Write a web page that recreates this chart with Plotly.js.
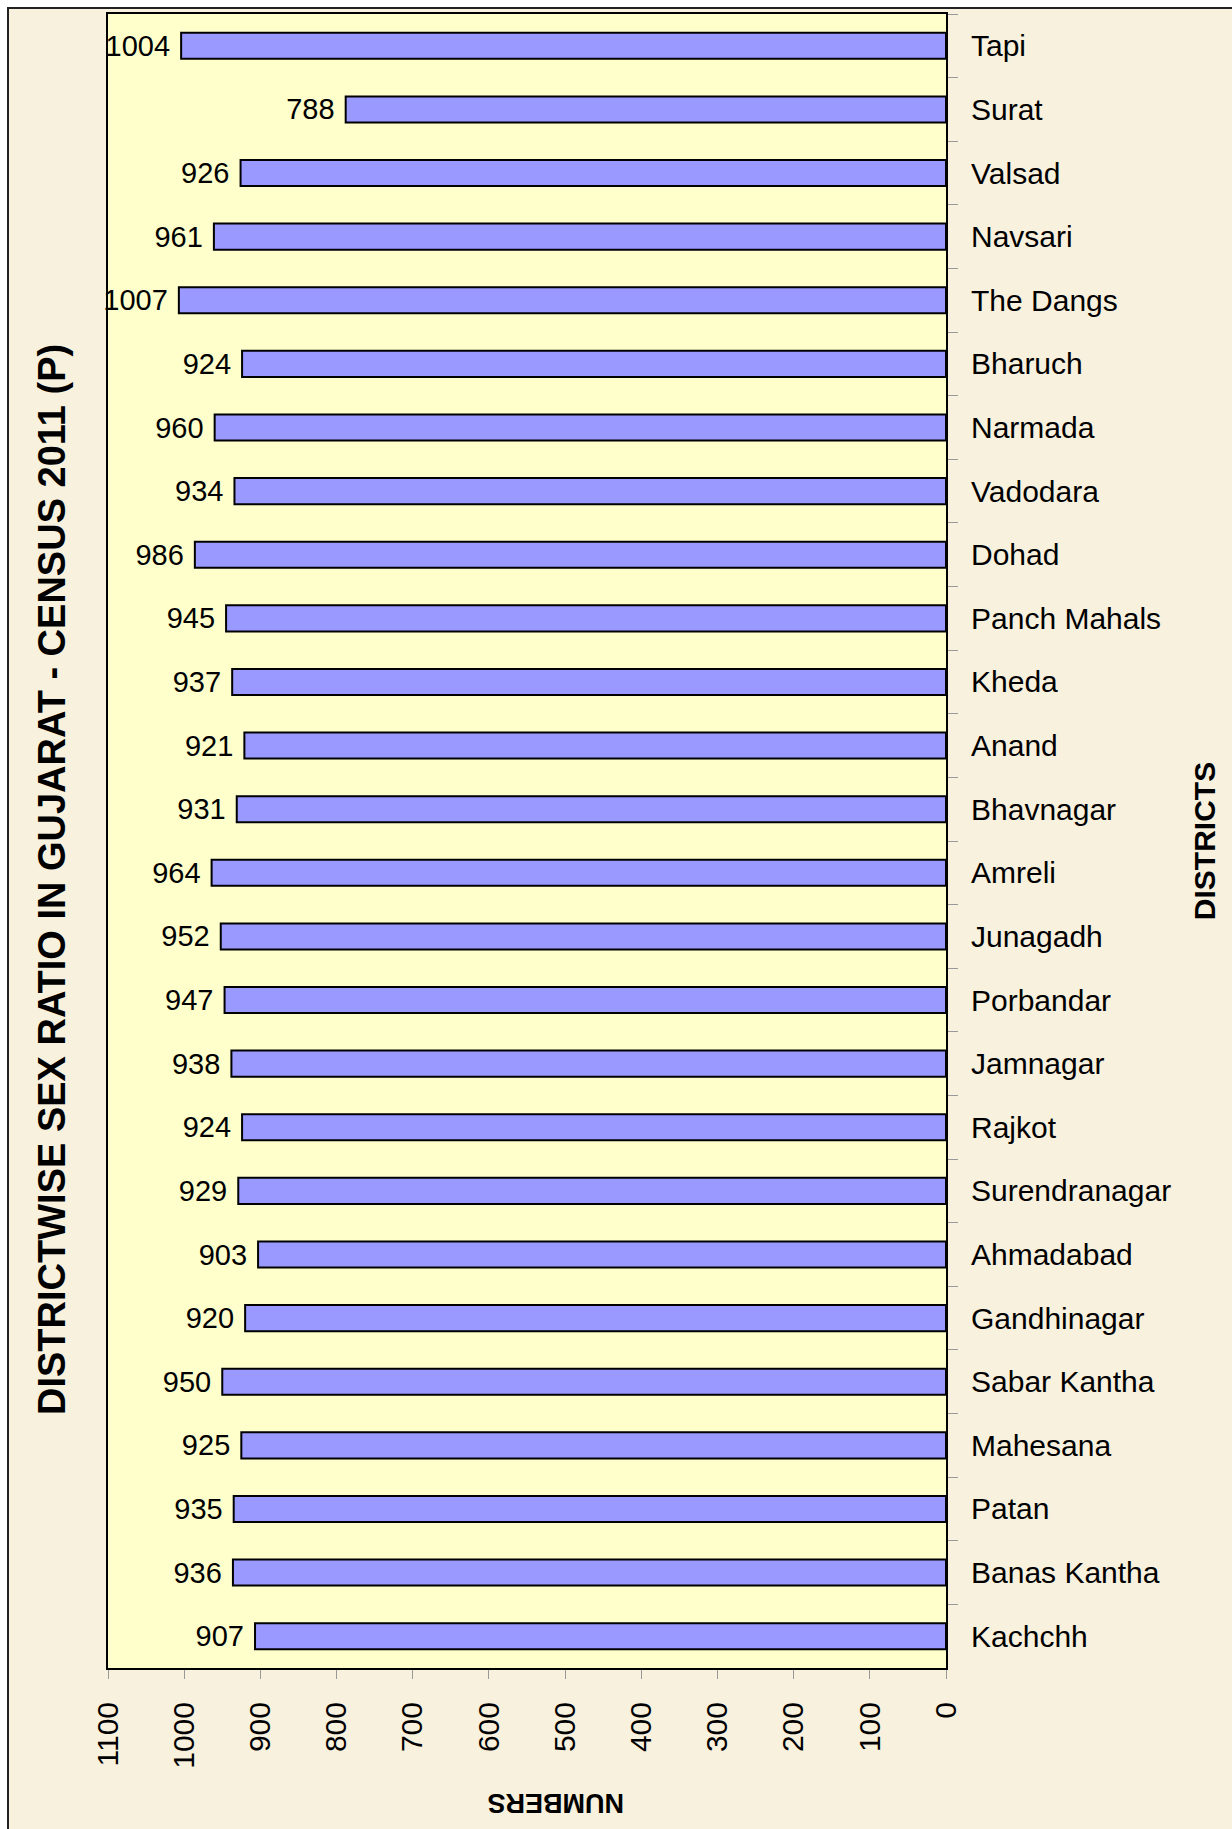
<!DOCTYPE html>
<html>
<head>
<meta charset="utf-8">
<script src="https://cdn.plot.ly/plotly-3.0.1.min.js"></script>
<style>
  html, body { margin: 0; padding: 0; background: #ffffff; }
  #frame { position: absolute; left: 7px; top: 7px; width: 1240px; height: 1840px;
           background: #f8f1de; border: 2px solid #222; box-sizing: border-box; }
  #chart { position: absolute; left: 0; top: 0; width: 1232px; height: 1829px; }
</style>
</head>
<body>
<div id="frame"></div>
<div id="chart"></div>
<script>
// Districts listed top to bottom as in the chart
const districts = ["Tapi", "Surat", "Valsad", "Navsari", "The Dangs", "Bharuch", "Narmada",
  "Vadodara", "Dohad", "Panch Mahals", "Kheda", "Anand", "Bhavnagar", "Amreli", "Junagadh",
  "Porbandar", "Jamnagar", "Rajkot", "Surendranagar", "Ahmadabad", "Gandhinagar",
  "Sabar Kantha", "Mahesana", "Patan", "Banas Kantha", "Kachchh"];
const sexRatio = [1004, 788, 926, 961, 1007, 924, 960, 934, 986, 945, 937, 921, 931, 964,
  952, 947, 938, 924, 929, 903, 920, 950, 925, 935, 936, 907];
const xTicks = [0, 100, 200, 300, 400, 500, 600, 700, 800, 900, 1000, 1100];
const chartTitle = "DISTRICTWISE SEX RATIO IN GUJARAT - CENSUS 2011 (P)";
const xTitle = "NUMBERS";
const yTitle = "DISTRICTS";

const FONT = "Liberation Sans, Arial, sans-serif";

const trace = {
  type: "bar",
  orientation: "h",
  y: districts,
  x: sexRatio,
  marker: { color: "#9999ff", line: { color: "#000000", width: 2 } },
  texttemplate: "%{x}\u00a0",
  textposition: "outside",
  cliponaxis: false,
  constraintext: "none",
  textfont: { family: FONT, size: 29, color: "#000000" },
  hoverinfo: "x+y"
};

const layout = {
  width: 1232,
  height: 1829,
  margin: { l: 108, r: 286, t: 14, b: 161 },
  paper_bgcolor: "rgba(0,0,0,0)",
  plot_bgcolor: "#ffffcc",
  showlegend: false,
  bargap: 0.59,
  font: { family: FONT, color: "#000000" },
  xaxis: {
    range: [1100, 0],
    tickvals: xTicks,
    ticktext: xTicks.map(String),
    tickangle: -90,
    tickfont: { family: FONT, size: 30, color: "#000000" },
    ticks: "outside",
    ticklen: 9,
    tickcolor: "#999999",
    tickwidth: 1,
    ticklabelstandoff: 11,
    showline: true,
    mirror: true,
    linecolor: "#000000",
    linewidth: 2,
    showgrid: false,
    zeroline: false
  },
  yaxis: {
    type: "category",
    autorange: "reversed",
    side: "right",
    tickfont: { family: FONT, size: 30, color: "#000000" },
    ticks: "outside",
    tickson: "boundaries",
    ticklen: 10,
    tickcolor: "#999999",
    tickwidth: 1,
    ticklabelstandoff: 17,
    showline: true,
    mirror: true,
    linecolor: "#000000",
    linewidth: 2,
    showgrid: false,
    zeroline: false,
    title: { text: yTitle, font: { family: FONT, size: 30, color: "#000000", weight: "bold" }, standoff: 24 }
  },
  annotations: [
    {
      text: "<b>" + chartTitle + "</b>",
      xref: "paper", yref: "paper",
      x: (52 - 108) / 838, y: (1668 - 880) / 1654,
      xanchor: "center", yanchor: "middle",
      textangle: -90,
      showarrow: false,
      font: { family: FONT, size: 38, color: "#000000" }
    },
    {
      text: "<b>" + xTitle + "</b>",
      xref: "paper", yref: "paper",
      x: (556 - 108) / 838, y: (1668 - 1803) / 1654,
      xanchor: "center", yanchor: "middle",
      textangle: 180,
      showarrow: false,
      font: { family: FONT, size: 27, color: "#000000" }
    }
  ]
};

Plotly.newPlot("chart", [trace], layout, { displayModeBar: false, staticPlot: true });
</script>
</body>
</html>
